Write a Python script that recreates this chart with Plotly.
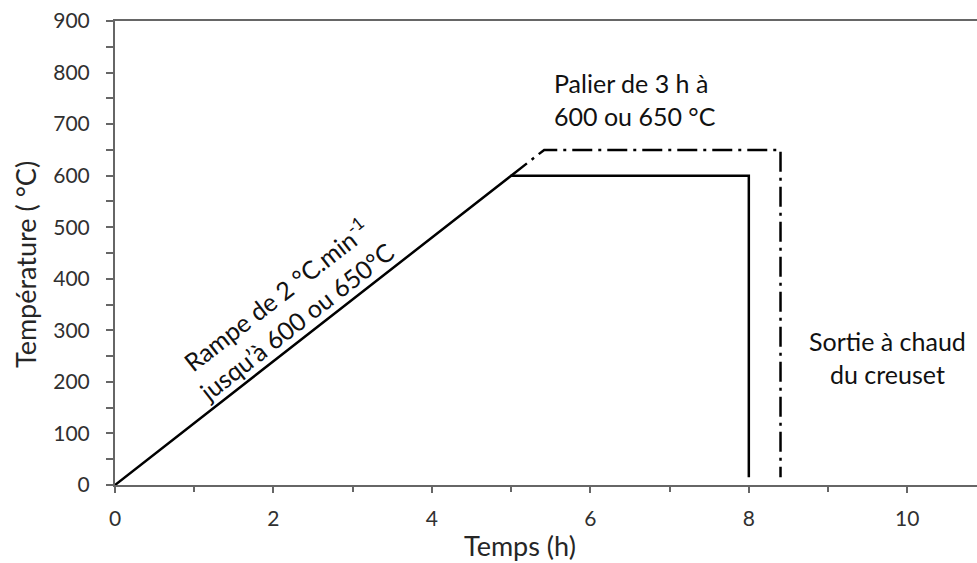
import plotly.graph_objects as go

# Solid profile (600 °C)
t_600 = [0, 5, 8, 8]
T_600 = [0, 600, 600, 15]
# Dash-dot profile (650 °C)
t_650 = [5, 5.417, 8.4, 8.4]
T_650 = [600, 650, 650, 15]

x_ticks = [0, 2, 4, 6, 8, 10]
y_ticks = [0, 100, 200, 300, 400, 500, 600, 700, 800, 900]

FONT = "Lato"
TXT = "#303030"
AX = "#666666"
ANN = "#111111"

fig = go.Figure()
fig.add_trace(go.Scatter(x=t_600, y=T_600, mode="lines",
                         line=dict(color="black", width=2.5), showlegend=False, hoverinfo="skip"))
fig.add_trace(go.Scatter(x=t_650, y=T_650, mode="lines",
                         line=dict(color="black", width=2.5, dash="20px,6px,3px,6px"),
                         showlegend=False, hoverinfo="skip"))

fig.add_annotation(x=2.15, y=345, xref="x", yref="y",
                   text="Rampe de 2 °C.min<sup>-1</sup><br>jusqu’à 600 ou 650°C",
                   textangle=-38, showarrow=False, align="center",
                   font=dict(family=FONT, size=25, color=ANN))
fig.add_annotation(x=5.52, y=747, xref="x", yref="y", xanchor="left", yanchor="middle",
                   text="Palier de 3 h à<br>600 ou 650 °C", showarrow=False, align="left",
                   font=dict(family=FONT, size=25, color=ANN))
fig.add_annotation(x=9.75, y=248, xref="x", yref="y", xanchor="center", yanchor="middle",
                   text="Sortie à chaud<br>du creuset", showarrow=False, align="center",
                   font=dict(family=FONT, size=25, color=ANN))

# axis titles placed as annotations for exact positioning
fig.add_annotation(x=(520 - 115) / 862, y=-(545 - 485) / 464, xref="paper", yref="paper",
                   text="Temps (h)", showarrow=False, xanchor="center", yanchor="middle",
                   font=dict(family=FONT, size=27, color="#262626"))
fig.add_annotation(x=-(115 - 25) / 862, y=(485 - 265) / 464, xref="paper", yref="paper",
                   text="Température ( °C)", showarrow=False, textangle=-90,
                   xanchor="center", yanchor="middle",
                   font=dict(family=FONT, size=27, color="#262626"))

fig.update_layout(
    width=977, height=563,
    margin=dict(l=115, r=0, t=21, b=78),
    paper_bgcolor="white", plot_bgcolor="white",
    font=dict(family=FONT, color=TXT),
    xaxis=dict(range=[0, 10.88], tickvals=x_ticks, ticktext=[str(v) for v in x_ticks],
               showgrid=False, zeroline=False, showline=True, linecolor=AX, linewidth=2,
               mirror=True, ticks="outside", ticklen=6, tickwidth=1.5, tickcolor=AX,
               minor=dict(dtick=1, tick0=0, ticks="outside", ticklen=5, tickwidth=1.5, tickcolor=AX),
               tickfont=dict(size=21, color=TXT), ticklabelstandoff=8),
    yaxis=dict(range=[0, 900], tickvals=y_ticks, ticktext=[str(v) for v in y_ticks],
               showgrid=False, zeroline=False, showline=True, linecolor=AX, linewidth=2,
               ticks="outside", ticklen=7, tickwidth=1.5, tickcolor=AX,
               minor=dict(dtick=50, tick0=0, ticks="outside", ticklen=7, tickwidth=1.5, tickcolor=AX),
               tickfont=dict(size=21, color=TXT), ticklabelstandoff=12),
)

fig.write_html("out.html")
